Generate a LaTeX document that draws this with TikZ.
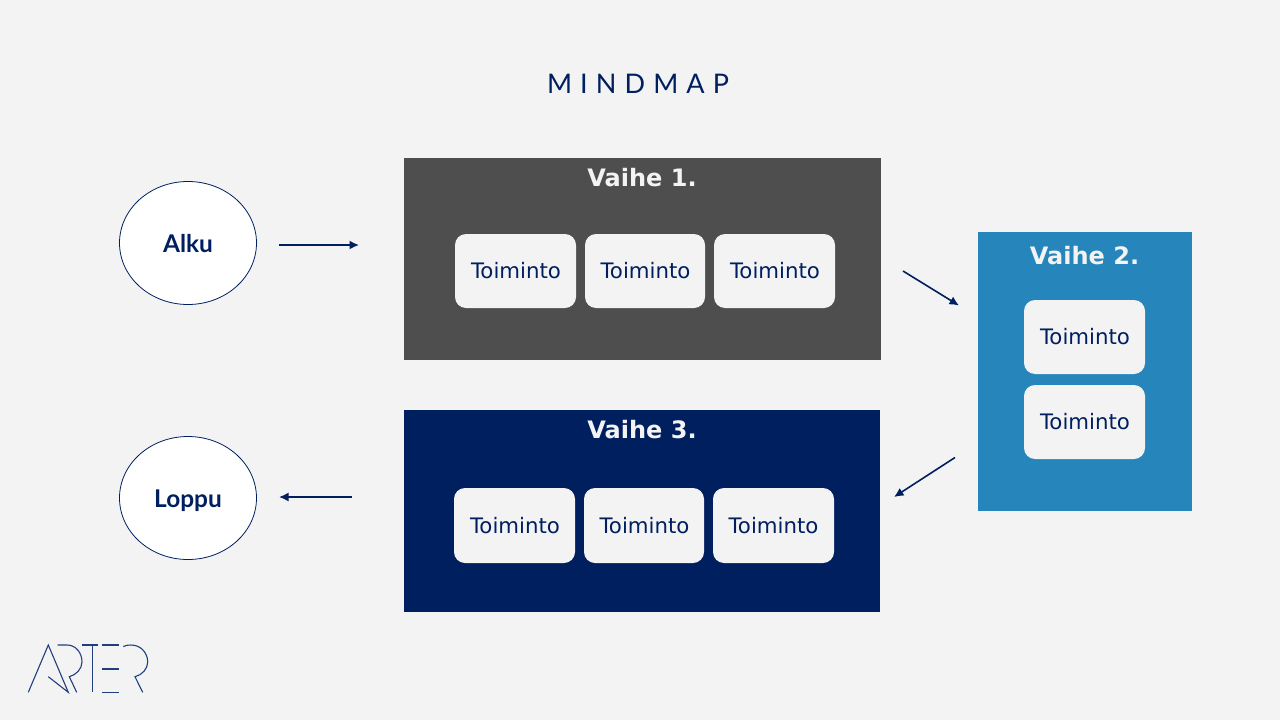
\documentclass[tikz,border=0pt]{standalone}
\usepackage{fontspec}
\setmainfont{DejaVu Sans}
\newfontfamily\latofont{Lato}
\usetikzlibrary{arrows.meta,shapes.geometric}
\definecolor{bgc}{HTML}{F3F3F3}
\definecolor{navy}{HTML}{001F5F}
\definecolor{darkgrey}{HTML}{4E4E4E}
\definecolor{bluemid}{HTML}{2686BB}
\definecolor{logoc}{HTML}{1F3F7F}
\newcommand{\acttext}{\hspace{1pt}\raisebox{-0.7pt}{Toiminto}}
\tikzset{
  x=1pt,y=-1pt,
  panelhead/.style={text=bgc,font=\fontsize{24}{28}\selectfont\bfseries,inner sep=0pt,anchor=center},
  actbox/.style={fill=bgc,rounded corners=11pt,inner sep=0pt,text=navy,font=\fontsize{21.3}{25}\selectfont,anchor=center},
  endpoint/.style={draw=navy,line width=0.8pt,fill=white,ellipse,inner sep=0pt,minimum width=137pt,minimum height=123pt,text=navy,font=\latofont\bfseries\fontsize{24.4}{28}\selectfont},
  flow/.style={draw=navy,line width=1.6pt,-{Latex[length=9.5pt,width=9pt]}},
  logoline/.style={draw=logoc,line width=1.1pt,line join=miter}
}
\begin{document}
\begin{tikzpicture}
\useasboundingbox (0,0) rectangle (1280,720);
\fill[bgc] (0,0) rectangle (1280,720);
\node[text=navy,inner sep=0pt,font=\latofont\fontsize{27}{32}\selectfont] (title) at (638,84) {\addfontfeature{LetterSpace=30}MINDMAP};
% panels
\fill[darkgrey] (404,158) rectangle (881,360);
\fill[bluemid] (978,232) rectangle (1192,511);
\fill[navy] (404,410) rectangle (880,612);
\node[panelhead] (h1) at (642,178) {Vaihe 1.};
\node[panelhead] (h2) at (1084.500,256) {Vaihe 2.};
\node[panelhead] (h3) at (642,430) {Vaihe 3.};
% action boxes
\node[actbox,minimum width=121pt,minimum height=74pt] (a1) at (515.500,271) {\acttext};
\node[actbox,minimum width=120pt,minimum height=74pt] (a2) at (645,271) {\acttext};
\node[actbox,minimum width=121pt,minimum height=74pt] (a3) at (774.500,271) {\acttext};
\node[actbox,minimum width=121pt,minimum height=74pt] (b1) at (1084.500,337) {\acttext};
\node[actbox,minimum width=121pt,minimum height=74pt] (b2) at (1084.500,422) {\acttext};
\node[actbox,minimum width=121pt,minimum height=75pt] (c1) at (514.500,525.500) {\acttext};
\node[actbox,minimum width=120pt,minimum height=75pt] (c2) at (644,525.500) {\acttext};
\node[actbox,minimum width=121pt,minimum height=75pt] (c3) at (773.500,525.500) {\raisebox{-0.7pt}{Toiminto}};
% endpoints
\node[endpoint,text depth=0pt,text height=17pt] (alku) at (188,243) {\raisebox{-1pt}{Alku}};
\node[endpoint,text depth=0pt,text height=17pt] (loppu) at (188,498) {\raisebox{-0.5pt}{Loppu}};
% connectors
\coordinate (f1s) at (279,245); \coordinate (f1e) at (359,245);
\coordinate (f2s) at (903,271); \coordinate (f2e) at (959,305.500);
\coordinate (f3s) at (955,457.500); \coordinate (f3e) at (894,497);
\coordinate (f4s) at (352,497); \coordinate (f4e) at (279,497);
\draw[flow] (f1s) -- (f1e);
\draw[flow] (f2s) -- (f2e);
\draw[flow] (f3s) -- (f3e);
\draw[flow] (f4s) -- (f4e);
% logo
\draw[logoline] (28.3,692.3) -- (48.3,645) -- (68.3,692.3) -- (48.3,676.7);
\draw[logoline] (57.7,645) -- (67,645) .. controls (76,645) and (82,653) .. (82,662) .. controls (82,669) and (76,675) .. (69.3,676.7) -- (76.7,692.3);
\draw[logoline] (81.7,645) -- (97.7,645) (92.3,645) -- (92.3,692.3);
\draw[logoline] (102.3,645) -- (119,645) (102.3,669) -- (119,669) (102.3,692.3) -- (119,692.3);
\draw[logoline] (123.3,646.5) .. controls (126,645.3) and (128,645) .. (131,645) .. controls (141,645) and (147.7,653) .. (147.7,662) .. controls (147.7,669) and (142,675) .. (135,676.7) -- (142.7,692.3);
\end{tikzpicture}
\end{document}
